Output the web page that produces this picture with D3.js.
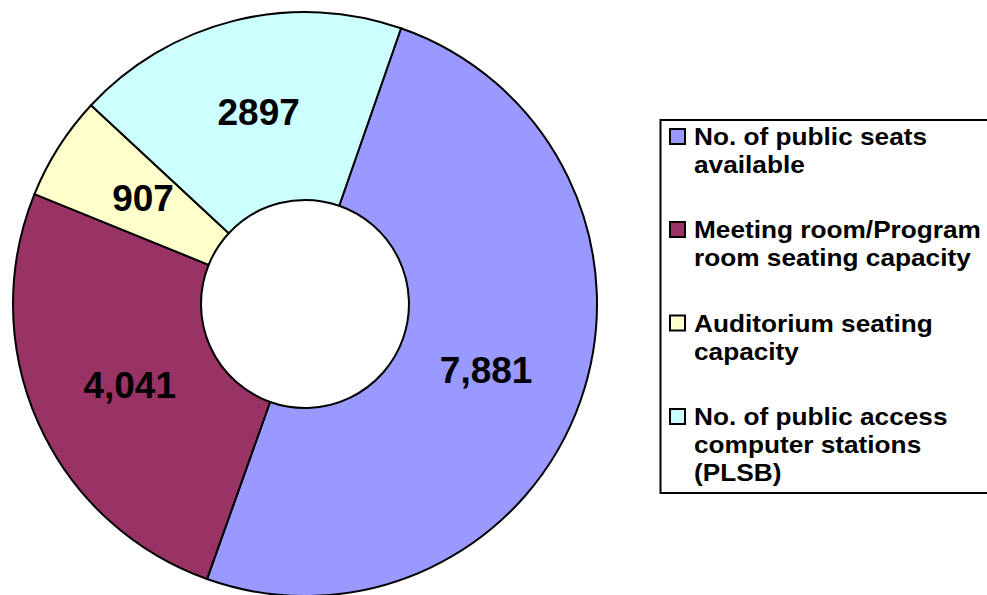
<!DOCTYPE html>
<html>
<head>
<meta charset="utf-8">
<script src="https://cdn.jsdelivr.net/npm/d3@7"></script>
<style>
  body { margin: 0; background: #fff; overflow: hidden; }
  svg { display: block; font-family: Arial, "Liberation Sans", sans-serif; font-weight: bold; }
</style>
</head>
<body>
<div id="chart"></div>
<script>
var categories = [
    ["No. of public seats", "available"],
    ["Meeting room/Program", "room seating capacity"],
    ["Auditorium seating", "capacity"],
    ["No. of public access", "computer stations", "(PLSB)"]
];
var values = [7881, 4041, 907, 2897];
var valueLabels = ["7,881", "4,041", "907", "2897"];
var colors = ["#9999FF", "#993366", "#FFFFCC", "#CCFFFF"];

const width = 987, height = 595;
var cx = 305, cy = 304;
var outerR = 292, innerR = 104;

var svg = d3.select("#chart")
    .append("svg")
    .attr("width", width)
    .attr("height", height);

var g = svg.append("g")
    .attr("transform", "translate(" + cx + "," + cy + ")");

var startAngle = 19.2 * Math.PI / 180;
var pie = d3.pie()
    .sort(null)
    .startAngle(startAngle)
    .endAngle(startAngle + 2 * Math.PI);

var arc = d3.arc()
    .innerRadius(innerR)
    .outerRadius(outerR);

var arcs = pie(values);

g.selectAll("path.slice")
    .data(arcs)
    .enter().append("path")
    .attr("class", "slice")
    .attr("d", arc)
    .attr("fill", function(d, i) { return colors[i] })
    .attr("stroke", "#000")
    .attr("stroke-width", 2)
    .attr("stroke-linejoin", "round");

// labels sit near the slice centroids
g.selectAll("text.val")
    .data(arcs)
    .enter().append("text")
    .attr("class", "val")
    .attr("x", function(d) { return arc.centroid(d)[0] * 0.97 })
    .attr("y", function(d) { return arc.centroid(d)[1] })
    .attr("dy", "0.36em")
    .attr("text-anchor", "middle")
    .style("font-size", "37px")
    .text(function(d, i) { return valueLabels[i] });

// legend (box runs off the right edge like the original)
var legend = svg.append("g");
legend.append("rect")
    .attr("x", 660.5)
    .attr("y", 120)
    .attr("width", 340)
    .attr("height", 373)
    .attr("fill", "#fff")
    .attr("stroke", "#000")
    .attr("stroke-width", 2);

var itemTop = [145, 238, 331.5, 425];
var lineH = 28;

var items = legend.selectAll(".item")
    .data(categories)
    .enter().append("g")
    .attr("class", "item");

items.append("rect")
    .attr("x", 670)
    .attr("y", function(d, i) { return itemTop[i] - 16 })
    .attr("width", 15)
    .attr("height", 15)
    .attr("fill", function(d, i) { return colors[i] })
    .attr("stroke", "#000")
    .attr("stroke-width", 2);

items.each(function(lines, i) {
    var item = d3.select(this);
    lines.forEach(function(line, k) {
        item.append("text")
            .attr("transform", "translate(694," + (itemTop[i] + k * lineH) + ") scale(1.14,1)")
            .style("font-size", "23px")
            .text(line);
    });
});
</script>
</body>
</html>
